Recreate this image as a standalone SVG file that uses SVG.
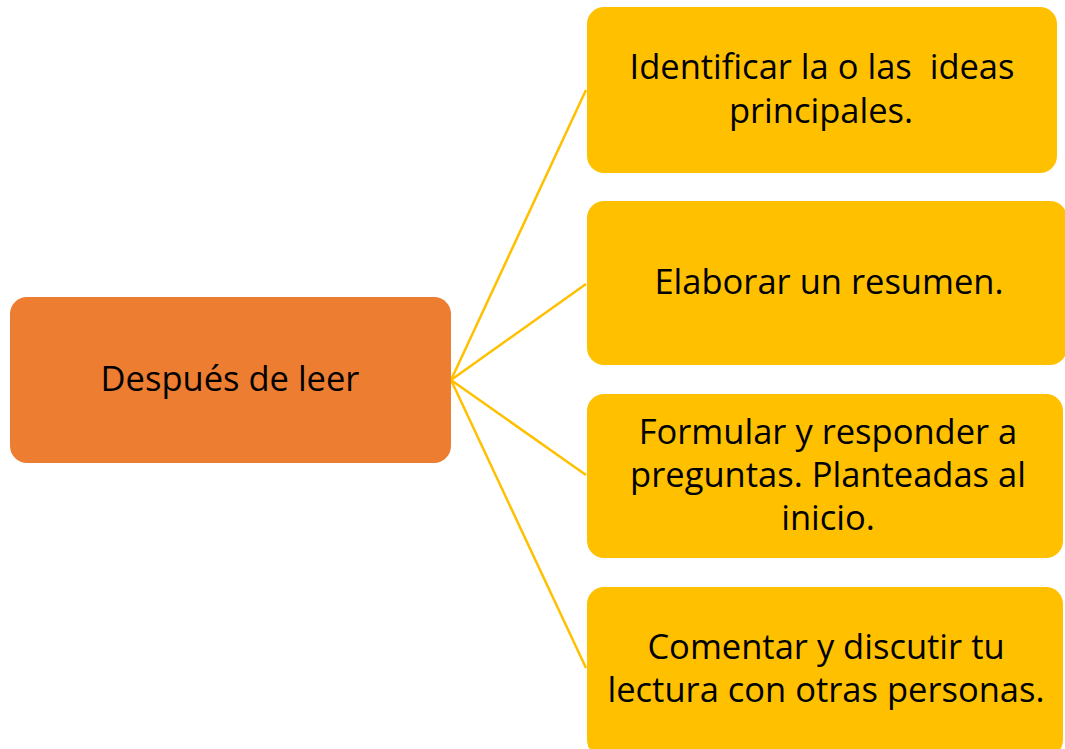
<svg xmlns="http://www.w3.org/2000/svg" width="1065" height="749" viewBox="0 0 1065 749">
  <style>
    .lbl { font-family: "Open Sans", "Liberation Sans", sans-serif; font-size: 34.5px; fill: #000; text-anchor: middle; white-space: pre; }
    .leaf { fill: #FFC000; }
    .root { fill: #ED7D31; }
    .conn { stroke: #FFC000; stroke-width: 2.5; fill: none; }
  </style>
  <rect width="1065" height="749" fill="#fff"/>
  <g id="connectors">
    <line class="conn" x1="451" y1="380" x2="586" y2="90"/>
    <line class="conn" x1="451" y1="380" x2="586" y2="284"/>
    <line class="conn" x1="451" y1="380" x2="586" y2="475"/>
    <line class="conn" x1="451" y1="380" x2="586" y2="668"/>
  </g>
  <g id="root">
    <rect class="root" x="10" y="297" width="441" height="166" rx="17"/>
    <text class="lbl" x="230" y="391">Después de leer</text>
  </g>
  <g id="n1">
    <rect class="leaf" x="587" y="7" width="470" height="166" rx="17"/>
    <text class="lbl" x="822" y="79" xml:space="preserve">Identificar la o las  ideas</text>
    <text class="lbl" x="821" y="123">principales.</text>
  </g>
  <g id="n2">
    <rect class="leaf" x="587" y="201" width="480" height="164" rx="17"/>
    <text class="lbl" x="829" y="294">Elaborar un resumen.</text>
  </g>
  <g id="n3">
    <rect class="leaf" x="587" y="394" width="476" height="164" rx="17"/>
    <text class="lbl" x="828" y="444">Formular y responder a</text>
    <text class="lbl" x="828" y="487">preguntas. Planteadas al</text>
    <text class="lbl" x="828" y="530">inicio.</text>
  </g>
  <g id="n4">
    <rect class="leaf" x="587" y="587" width="476" height="170" rx="17"/>
    <text class="lbl" x="826" y="659">Comentar y discutir tu</text>
    <text class="lbl" x="826" y="702">lectura con otras personas.</text>
  </g>
</svg>
